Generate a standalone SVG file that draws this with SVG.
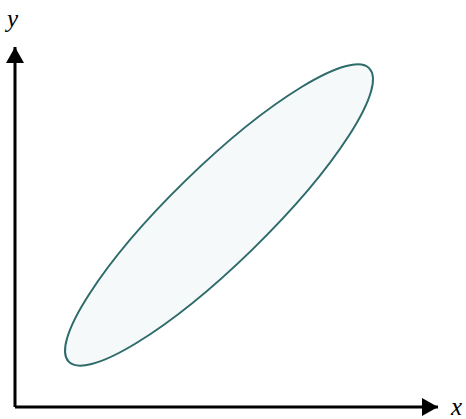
<svg xmlns="http://www.w3.org/2000/svg" width="466" height="419" viewBox="0 0 466 419">
<style>
.axis{stroke:#000;stroke-width:3;fill:none}
.lbl{font-family:"Liberation Serif",serif;font-style:italic;font-size:25px;fill:#000}
</style>
<defs>
<marker id="ah" markerUnits="userSpaceOnUse" markerWidth="18" markerHeight="18" refX="16" refY="9" orient="auto">
<path d="M0,0 L16,9 L0,18 Z" fill="#000"/>
</marker>
</defs>
<rect width="466" height="419" fill="#fff"/>
<g id="ellipse">
<ellipse cx="219" cy="215" rx="210" ry="48" transform="rotate(-44.3 219 215)" fill="#f5f9f9" stroke="#2e6b6b" stroke-width="2"/>
</g>
<g id="connectors">
<path class="axis" d="M15,407 L15,47" marker-end="url(#ah)"/>
<path class="axis" d="M15,407 L438,407" marker-end="url(#ah)"/>
</g>
<g id="labels">
<text class="lbl" x="7" y="27">y</text>
<text class="lbl" x="451" y="415">x</text>
</g>
</svg>
